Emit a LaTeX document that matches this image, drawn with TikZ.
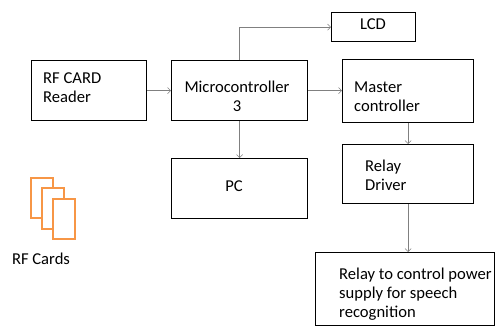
\documentclass[tikz,border=0pt]{standalone}
\usepackage{fontspec}
\setmainfont{Carlito}
\usetikzlibrary{arrows.meta}
\definecolor{cardorange}{RGB}{247,150,70}
\begin{document}
\begin{tikzpicture}[x=1pt, y=-1pt,
    blk/.style={draw, line width=1.2pt, anchor=north west, inner sep=0pt},
    txt/.style={anchor=base west, align=left, inner sep=0pt, font=\fontsize{16.6}{19}\selectfont},
    arr/.style={draw=gray, line width=0.6pt, -{Straight Barb[length=3pt,width=6pt]}},
    card/.style={draw=cardorange, line width=1.2pt, fill=white}]
            \useasboundingbox (0,0) rectangle (495,327);

            \node[blk, minimum width=115, minimum height=60] (RF) at (31,60) {};
            \node[blk, minimum width=136, minimum height=60] (MC) at (171,60) {};
            \node[blk, minimum width=84, minimum height=29] (LCD) at (331,12) {};
            \node[blk, minimum width=131, minimum height=63] (MS) at (342,59) {};
            \node[blk, minimum width=131, minimum height=59] (RD) at (342,144) {};
            \node[blk, minimum width=136, minimum height=60] (PC) at (171,158) {};
            \node[blk, minimum width=179, minimum height=73] (RL) at (315,252) {};

            % base = last line
            \node[txt] (RFt) at (43,102) {RF CARD\\Reader};
            \node[txt, anchor=base, align=center] (MCt) at (237,111.5) {Microcontroller\\3};
            \node[txt, anchor=base] (LCDt) at (373,29) {LCD};
            \node[txt] (MSt) at (354,111.5) {Master\\controller};
            \node[txt] (RDt) at (365,190) {Relay\\Driver};
            \node[txt, anchor=base] (PCt) at (234,191) {PC};
            \node[txt] (RLt) at (339,317) {Relay to control power\\supply for speech\\recognition};

            % rf cards
            \draw[card] (31,178) rectangle (53,218);
            \draw[card] (42,188) rectangle (64,229);
            \draw[card] (53,199) rectangle (75,239);
            \node[txt, anchor=base] (CRt) at (41,264) {RF Cards};

            \draw[arr] (RF) -- (MC);
            \draw[arr] (MC.east) -- (MC.east -| MS.west);
            \draw[arr] (MC.north) |- (LCD.west);
            \draw[arr] (MC) -- (PC);
            \draw[arr] (MS) -- (RD);
            \draw[arr] (RD.south) -- (RD.south |- RL.north);
        \end{tikzpicture}
\end{document}
